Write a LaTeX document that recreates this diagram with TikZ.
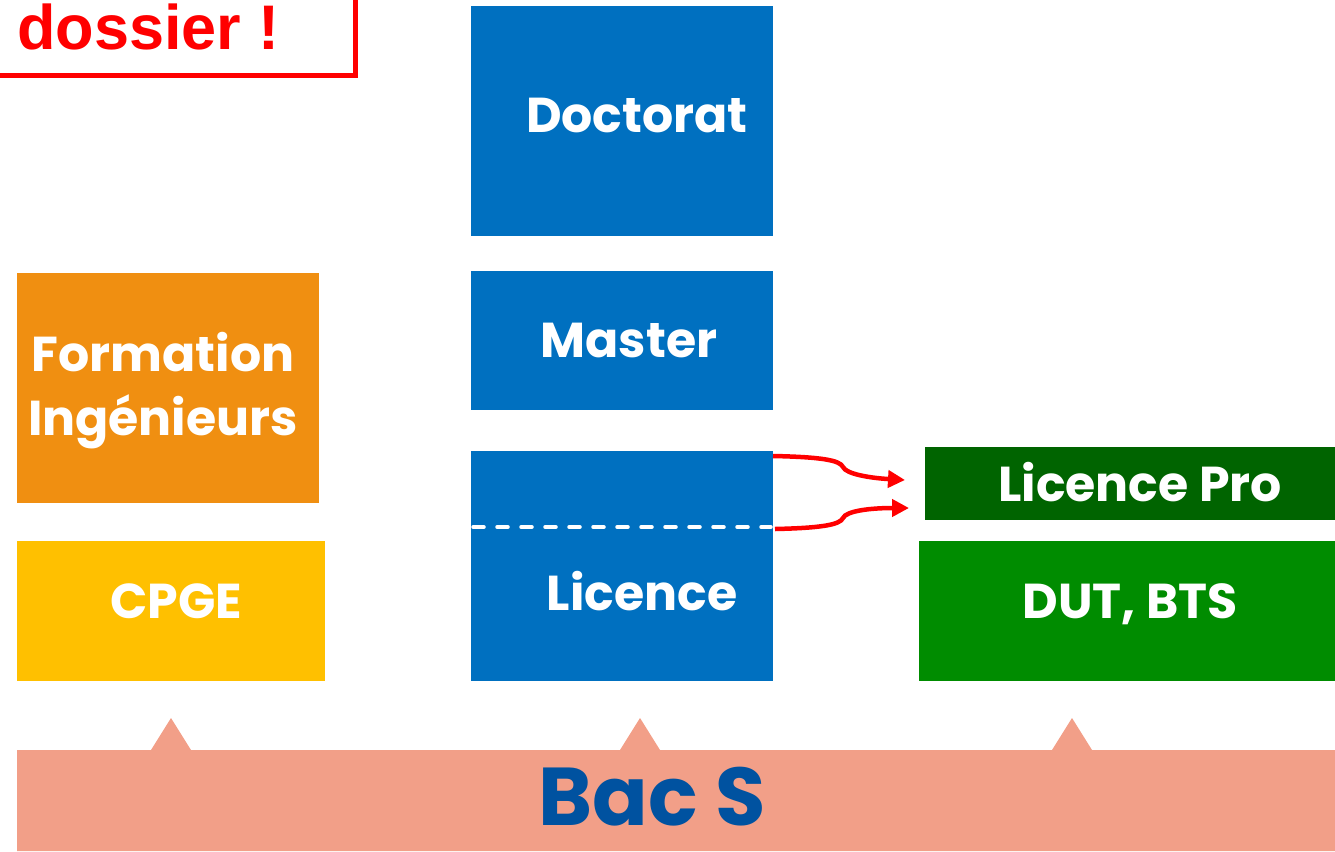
\documentclass[tikz,border=0pt]{standalone}
\usepackage{fontspec}
\setmainfont{Poppins}
\newfontfamily\arialb{Liberation Sans}[BoldFont={* Bold}]
\usetikzlibrary{arrows.meta}
\definecolor{cblue}{HTML}{0070C0}
\definecolor{corange}{HTML}{F08F11}
\definecolor{cyellow}{HTML}{FFC000}
\definecolor{cdgreen}{HTML}{006400}
\definecolor{cgreen}{HTML}{008C00}
\definecolor{csalmon}{HTML}{F29F88}
\definecolor{cbacs}{HTML}{0052A0}
\tikzset{
  box/.style={anchor=north west, inner sep=0pt, outer sep=0pt},
  lbl/.style={text=white, font=\fontsize{49}{64}\selectfont\bfseries, align=center, inner sep=0pt},
  redarrow/.style={draw=red, line width=4.5pt, -{Triangle[length=17pt,width=17pt]}},
}
\begin{document}
\begin{tikzpicture}[x=1pt,y=-1pt]
\useasboundingbox (0,0) rectangle (1335,851);
% warning box
\draw[red, line width=5pt] (-20,-20) rectangle (355,75);
\node[anchor=base west, text=red, font=\arialb\fontsize{63}{70}\selectfont\bfseries, inner sep=0pt] (dossier) at (17,50) {dossier !};
% blue column
\fill[cblue] (471,6) rectangle (773,236);
\node[box, minimum width=302pt, minimum height=230pt] (doc) at (471,6) {};
\node[lbl] (doct) at (637,115) {Doctorat};
\fill[cblue] (471,271) rectangle (773,410);
\node[box, minimum width=302pt, minimum height=139pt] (mas) at (471,271) {};
\node[lbl] (mast) at (629,340) {Master};
\fill[cblue] (471,451) rectangle (773,681);
\node[box, minimum width=302pt, minimum height=230pt] (lic) at (471,451) {};
\node[lbl] (lict) at (642,591) {Licence};
\coordinate (dl) at (473,527);
\coordinate (dr) at (771,527);
\draw[white, line width=3.5pt, line cap=round, dash pattern=on 11pt off 13pt] (dl) -- (dr);
% left column
\fill[corange] (17,273) rectangle (319,503);
\node[box, minimum width=302pt, minimum height=230pt] (form) at (17,273) {};
\node[lbl] (formt) at (163,391) {Formation\\Ingénieurs};
\fill[cyellow] (17,541) rectangle (325,681);
\node[box, minimum width=308pt, minimum height=140pt] (cpge) at (17,541) {};
\node[lbl] (cpget) at (176,601) {CPGE};
% right column
\fill[cdgreen] (925,447) rectangle (1335,520);
\node[box, minimum width=410pt, minimum height=73pt] (lp) at (925,447) {};
\node[lbl] (lpt) at (1140,482) {Licence Pro};
\fill[cgreen] (919,541) rectangle (1335,681);
\node[box, minimum width=416pt, minimum height=140pt] (dut) at (919,541) {};
\node[lbl] (dutt) at (1130,604) {DUT, BTS};
% arrows
\coordinate (a1s) at (773,456);
\coordinate (a1e) at (905,480);
\coordinate (a2s) at (775,529);
\coordinate (a2e) at (909,508);
\draw[redarrow] (a1s) .. controls (820,457) and (840,460) .. (843,467) .. controls (846,474) and (870,478) .. (a1e);
\draw[redarrow] (a2s) .. controls (820,528) and (840,525) .. (843,518) .. controls (846,511) and (870,508) .. (a2e);
% Bac S band
\fill[csalmon] (17,750) -- (151,750) -- (171,718) -- (191,750) -- (620,750) -- (640,718) -- (660,750)
  -- (1052,750) -- (1072,718) -- (1092,750) -- (1335,750) -- (1335,851) -- (17,851) -- cycle;
\node[box, minimum width=1318pt, minimum height=101pt] (bac) at (17,750) {};
\node[text=cbacs, font=\fontsize{82}{90}\selectfont\bfseries, inner sep=0pt] (bact) at (652,797) {Bac S};
\end{tikzpicture}
\end{document}
